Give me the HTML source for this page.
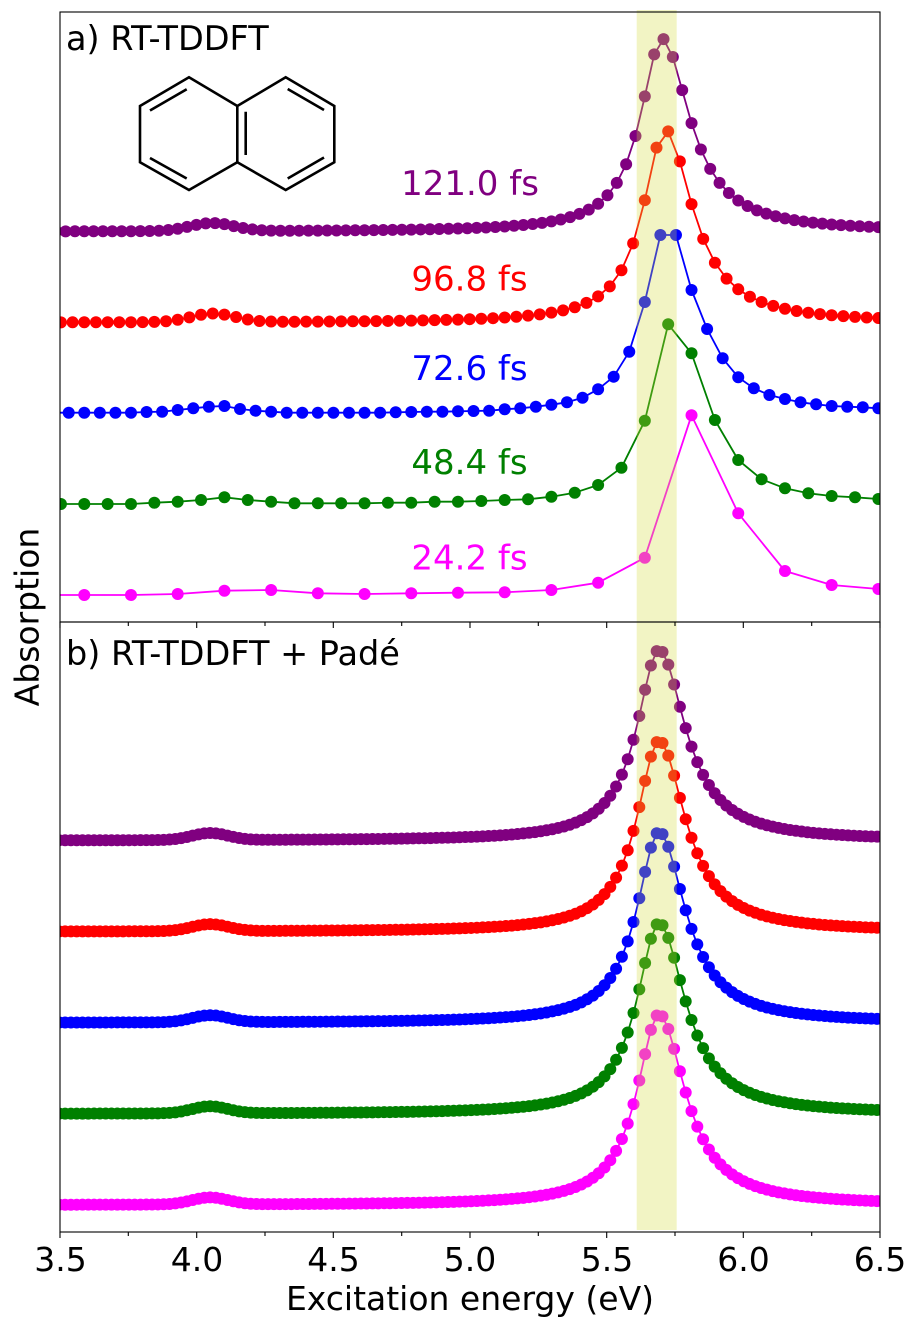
<!DOCTYPE html>
<html>
<head>
<meta charset="utf-8">
<style>
html,body{margin:0;padding:0;background:#fff;}
body{width:919px;height:1330px;overflow:hidden;}
svg{display:block;}
text{font-family:"DejaVu Sans","Liberation Sans",sans-serif;}
</style>
</head>
<body>
<svg width="919" height="1330" viewBox="0 0 919 1330">
<defs>
<clipPath id="ca"><rect x="60" y="12" width="820" height="610"/></clipPath>
<clipPath id="cb"><rect x="60" y="622" width="820" height="610"/></clipPath>
</defs>
<rect x="0" y="0" width="919" height="1330" fill="#fff"/>

<!-- molecule -->
<g fill="none" stroke="#000" stroke-width="2.6" stroke-linejoin="miter">
<path d="M140,106 L189,77.3 L237.3,106 L285.7,77.3 L334.3,106 L334.3,162.3 L285.7,190 L237.3,162.3 L189,190 L140,162.3 Z"/>
<path d="M237.3,106 L237.3,162.3"/>
<path d="M150,110.5 L186.7,89.3 M150,158 L186.7,178.5 M245.7,111.7 L245.7,155 M287.7,89 L324,110 M287.7,178.5 L324,157.5"/>
</g>

<g id="da" clip-path="url(#ca)"></g>
<g id="db" clip-path="url(#cb)"></g>

<!-- highlight band -->
<rect x="636.7" y="10" width="40" height="1220" fill="#d4dc3c" fill-opacity="0.3"/>

<!-- frames -->
<rect x="60" y="12" width="820" height="610" fill="none" stroke="#000" stroke-width="1.1"/>
<rect x="60" y="622" width="820" height="610" fill="none" stroke="#000" stroke-width="1.1"/>

<!-- ticks -->
<g stroke="#000" stroke-width="1.1">
<path d="M60,622 v6 M196.7,622 v6 M333.3,622 v6 M470,622 v6 M606.7,622 v6 M743.3,622 v6 M880,622 v6"/>
<path d="M128.3,622 v4 M265,622 v4 M401.7,622 v4 M538.3,622 v4 M675,622 v4 M811.7,622 v4"/>
<path d="M60,1232 v6 M196.7,1232 v6 M333.3,1232 v6 M470,1232 v6 M606.7,1232 v6 M743.3,1232 v6 M880,1232 v6"/>
<path d="M128.3,1232 v4 M265,1232 v4 M401.7,1232 v4 M538.3,1232 v4 M675,1232 v4 M811.7,1232 v4"/>
</g>

<!-- tick labels -->
<g font-size="33" text-anchor="middle" fill="#000">
<text x="60.5" y="1271">3.5</text>
<text x="197" y="1271">4.0</text>
<text x="333.5" y="1271">4.5</text>
<text x="470" y="1271">5.0</text>
<text x="607" y="1271">5.5</text>
<text x="743.5" y="1271">6.0</text>
<text x="880" y="1271">6.5</text>
</g>
<text x="470" y="1310" font-size="33" text-anchor="middle" fill="#000">Excitation energy (eV)</text>
<text transform="translate(38.5,617) rotate(-90)" font-size="33" text-anchor="middle" fill="#000">Absorption</text>

<!-- panel titles -->
<text x="66" y="50" font-size="33.5" fill="#000">a) RT-TDDFT</text>
<text x="66" y="665" font-size="33.5" fill="#000">b) RT-TDDFT + Padé</text>

<!-- series labels -->
<g font-size="34" text-anchor="middle">
<text x="470" y="195" fill="#800080">121.0 fs</text>
<text x="469.5" y="290.7" fill="#ff0000">96.8 fs</text>
<text x="469.5" y="380" fill="#0000ff">72.6 fs</text>
<text x="469.5" y="474" fill="#008000">48.4 fs</text>
<text x="469.5" y="569.3" fill="#ff00ff">24.2 fs</text>
</g>
</svg>

<script>
(function(){
  function X(e){return 60+(e-3.5)*273.3333;}
  function lor(x,c,A,gL,gR){var d=(x-c)/(x<c?gL:gR);return A/(1+d*d);}
  function gau(x,c,h,s){var d=(x-c)/s;return h*Math.exp(-0.5*d*d);}
  function series(pts,col){
    var s='',h='',i;
    for(i=0;i<pts.length;i++){s+=pts[i][0].toFixed(2)+','+pts[i][1].toFixed(2)+' ';}
    h+='<polyline points="'+s+'" fill="none" stroke="'+col+'" stroke-width="1.8" stroke-linejoin="round"/>';
    for(i=0;i<pts.length;i++){h+='<circle cx="'+pts[i][0].toFixed(2)+'" cy="'+pts[i][1].toFixed(2)+'" r="6" fill="'+col+'"/>';}
    return h;
  }
  var A='',B='',k,x,pts,i,j;

  // purple 121.0 fs
  pts=[];
  for(k=101;k<=191;k++){x=X(k*0.0341794);pts.push([x,231.7-lor(x,662,193,26.3,33.5)-gau(x,212,8,22)]);}
  A+=series(pts,'#800080');

  // red 96.8 fs
  pts=[];
  for(k=80;k<=153;k++){x=X(k*0.0427242);pts.push([x,322.7-lor(x,665,193,26.6,33.5)-gau(x,213,8.5,22)]);}
  A+=series(pts,'#ff0000');

  // blue 72.6 fs, k=61..114
  var blue=[412.7,412.7,412.7,412.7,412.7,412.7,
            412,411.7,410,408.3,406.7,406,
            409,410.7,411.7,412.7,412.7,412.7,
            412.7,412.7,412.7,412.7,412.3,412,
            411.7,411.7,411.3,411,410.7,409.3,
            408.3,406.7,404.7,402.3,397.7,389.3,
            376.7,351.7,302,235,235,290,
            329,358.3,377.3,388.3,395,399,
            402.3,404.3,406,406.7,407.3,408.3];
  pts=[];
  for(i=0;i<blue.length;i++){pts.push([X((61+i)*0.0569656),blue[i]]);}
  A+=series(pts,'#0000ff');

  // green 48.4 fs, k=40..77
  var green=[504,504,504,504,504,
             502.7,501.7,500,497.3,500,
             501.7,503.3,503.3,503.3,503.3,
             502.7,502.7,501.7,501.7,501,
             500,499.3,496.7,492.7,485,
             467.7,420.7,324.3,353.3,420,
             460,479.3,488.3,493.3,496,
             497.3,499,500];
  pts=[];
  for(i=0;i<green.length;i++){pts.push([X((40+i)*0.0854483),green[i]]);}
  A+=series(pts,'#008000');

  // magenta 24.2 fs, k=20..39
  var mag=[595,595,595,594,590.7,590,593.3,594,593.3,592.7,592.3,590,582.7,557.7,415.3,513.3,571,585,589,590];
  pts=[];
  for(i=0;i<mag.length;i++){pts.push([X((20+i)*0.1708967),mag[i]]);}
  A+=series(pts,'#ff00ff');

  // panel b
  var cols=['#800080','#ff0000','#0000ff','#008000','#ff00ff'];
  for(j=0;j<5;j++){
    var base=840.7+91.1*j;
    pts=[];
    for(i=-1;i<=143;i++){x=59.3+5.8*i;pts.push([x,base-lor(x,659,191,27,32)-gau(x,210,7,18)]);}
    B+=series(pts,cols[j]);
  }
  document.getElementById('da').innerHTML=A;
  document.getElementById('db').innerHTML=B;
})();
</script>
</body>
</html>
